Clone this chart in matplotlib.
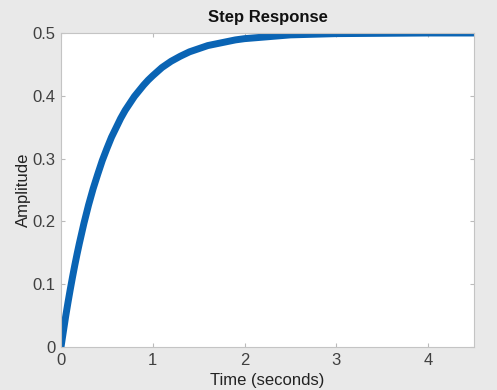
import matplotlib
matplotlib.use('Agg')
import matplotlib.pyplot as plt

# step response
time_s = [0, 0.025, 0.05, 0.075, 0.1, 0.125, 0.15, 0.175, 0.2, 0.25, 0.3, 0.35,
          0.4, 0.45, 0.5, 0.55, 0.6, 0.65, 0.7, 0.75, 0.8, 0.85, 0.9, 0.95, 1.0,
          1.1, 1.2, 1.3, 1.4, 1.5, 1.6, 1.7, 1.8, 1.9, 2.0, 2.25, 2.5, 2.75,
          3.0, 3.5, 4.0, 4.5]
amplitude = [0, 0.024, 0.048, 0.070, 0.091, 0.111, 0.130, 0.148, 0.165, 0.197,
             0.226, 0.252, 0.275, 0.297, 0.316, 0.334, 0.349, 0.364, 0.377,
             0.388, 0.399, 0.408, 0.417, 0.425, 0.432, 0.445, 0.455, 0.463,
             0.470, 0.475, 0.480, 0.483, 0.486, 0.489, 0.491, 0.494, 0.497,
             0.498, 0.499, 0.4995, 0.5, 0.5]
xticks = [0, 1, 2, 3, 4]
yticks = [0, 0.1, 0.2, 0.3, 0.4, 0.5]

plt.rcParams['font.family'] = ['Liberation Sans', 'DejaVu Sans']

fig = plt.figure(figsize=(4.97, 3.90), dpi=100, facecolor='#e9e9e9')
ax = fig.add_axes([61 / 497, 1 - 347 / 390, 413 / 497, 314 / 390])
ax.set_facecolor('white')

ax.plot(time_s, amplitude, color='#0a64b4', linewidth=5, solid_capstyle='round',
        solid_joinstyle='round')

ax.set_xlim(0, 4.5)
ax.set_ylim(0, 0.5)
ax.set_xticks(xticks)
ax.set_yticks(yticks)
ax.set_yticklabels(['0', '0.1', '0.2', '0.3', '0.4', '0.5'])
ax.tick_params(direction='in', length=3, color='#bbbbbb', labelcolor='#404040',
               labelsize=12, top=True, right=True, pad=4)
for s in ax.spines.values():
    s.set_color('#c4c4c4')
    s.set_linewidth(0.8)

ax.set_title('Step Response', fontsize=12, fontweight='bold', color='#111111', pad=8)
ax.set_xlabel('Time (seconds)', fontsize=12, color='#222222', labelpad=4)
ax.set_ylabel('Amplitude', fontsize=12, color='#222222', labelpad=1)

fig.savefig('out.png', dpi=100, facecolor=fig.get_facecolor())
